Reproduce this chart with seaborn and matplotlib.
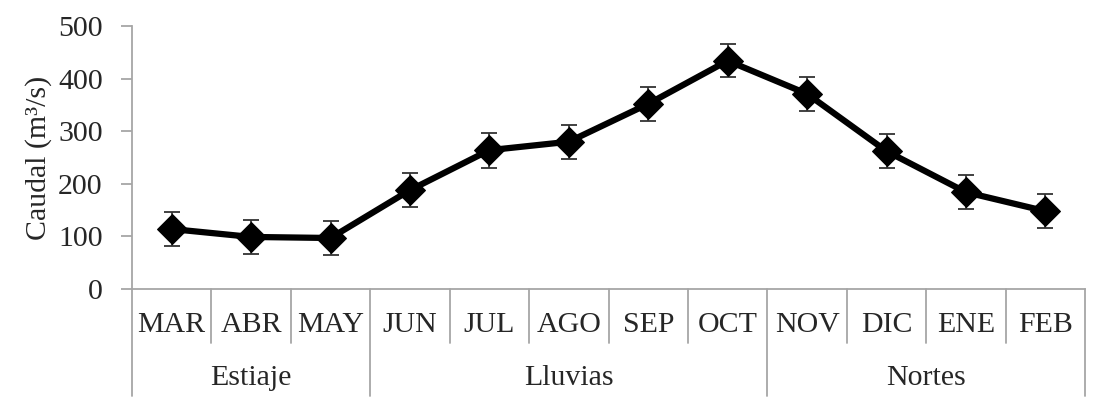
import numpy as np
import pandas as pd
import seaborn as sns
import matplotlib.pyplot as plt
from matplotlib import transforms

# monthly discharge with error
months = ['MAR', 'ABR', 'MAY', 'JUN', 'JUL', 'AGO', 'SEP', 'OCT', 'NOV', 'DIC', 'ENE', 'FEB']
caudal = [114, 99, 97, 188, 264, 280, 352, 434, 371, 262, 184, 148]
error = [32, 32, 32, 33, 33, 32, 32, 31, 32, 32, 32, 32]
seasons = ['Estiaje', 'Lluvias', 'Nortes']
season_len = [3, 5, 4]

df = pd.DataFrame({'pos': np.arange(len(months)), 'mes': months, 'caudal': caudal, 'err': error})

sns.set_style('white')
plt.rcParams['font.family'] = ['Liberation Serif', 'DejaVu Serif']
fs = 21.5

fig = plt.figure(figsize=(10.95, 4.11), dpi=100)
ax = fig.add_axes([0.1205, 0.2968, 0.8705, 0.6399])

ax.errorbar(df['pos'], df['caudal'], yerr=df['err'], fmt='none', ecolor='#333333',
            elinewidth=1.3, capsize=6, capthick=1.3, zorder=2)
sns.lineplot(data=df, x='pos', y='caudal', ax=ax, color='black', linewidth=4.5,
             marker='D', markersize=15, markeredgecolor='black', zorder=3)

ax.set_xlim(-0.5, len(months) - 0.5)
ax.set_ylim(0, 500)
ax.set_yticks(range(0, 501, 100))
ax.set_yticklabels([str(v) for v in range(0, 501, 100)], fontsize=fs)
ax.set_ylabel('Caudal (m³/s)', fontsize=fs, labelpad=4)
ax.set_xlabel('')
ax.set_xticks([])

gray = '#a6a6a6'
for side in ['top', 'right']:
    ax.spines[side].set_visible(False)
for side in ['left', 'bottom']:
    ax.spines[side].set_color(gray)
    ax.spines[side].set_linewidth(1.3)
ax.tick_params(axis='y', direction='out', length=8, width=1.3, color=gray, left=True, pad=13)

# category axis with two levels
trans = transforms.blended_transform_factory(ax.transData, ax.transAxes)
ax_h = 263.0
short_y = -54 / ax_h
long_y = -107 / ax_h
edges = np.cumsum([0] + season_len) - 0.5
for b in np.arange(-0.5, len(months)):
    y0 = long_y if b in edges else short_y
    ax.plot([b, b], [0, y0], color=gray, lw=1.3, transform=trans, clip_on=False)

for i, m in enumerate(months):
    ax.text(i, -36 / ax_h, m, transform=trans, ha='center', va='center', fontsize=fs)
for s, a, b in zip(seasons, edges[:-1], edges[1:]):
    ax.text((a + b) / 2, -89 / ax_h, s, transform=trans, ha='center', va='center', fontsize=fs)

plt.savefig('out.png', dpi=100)
